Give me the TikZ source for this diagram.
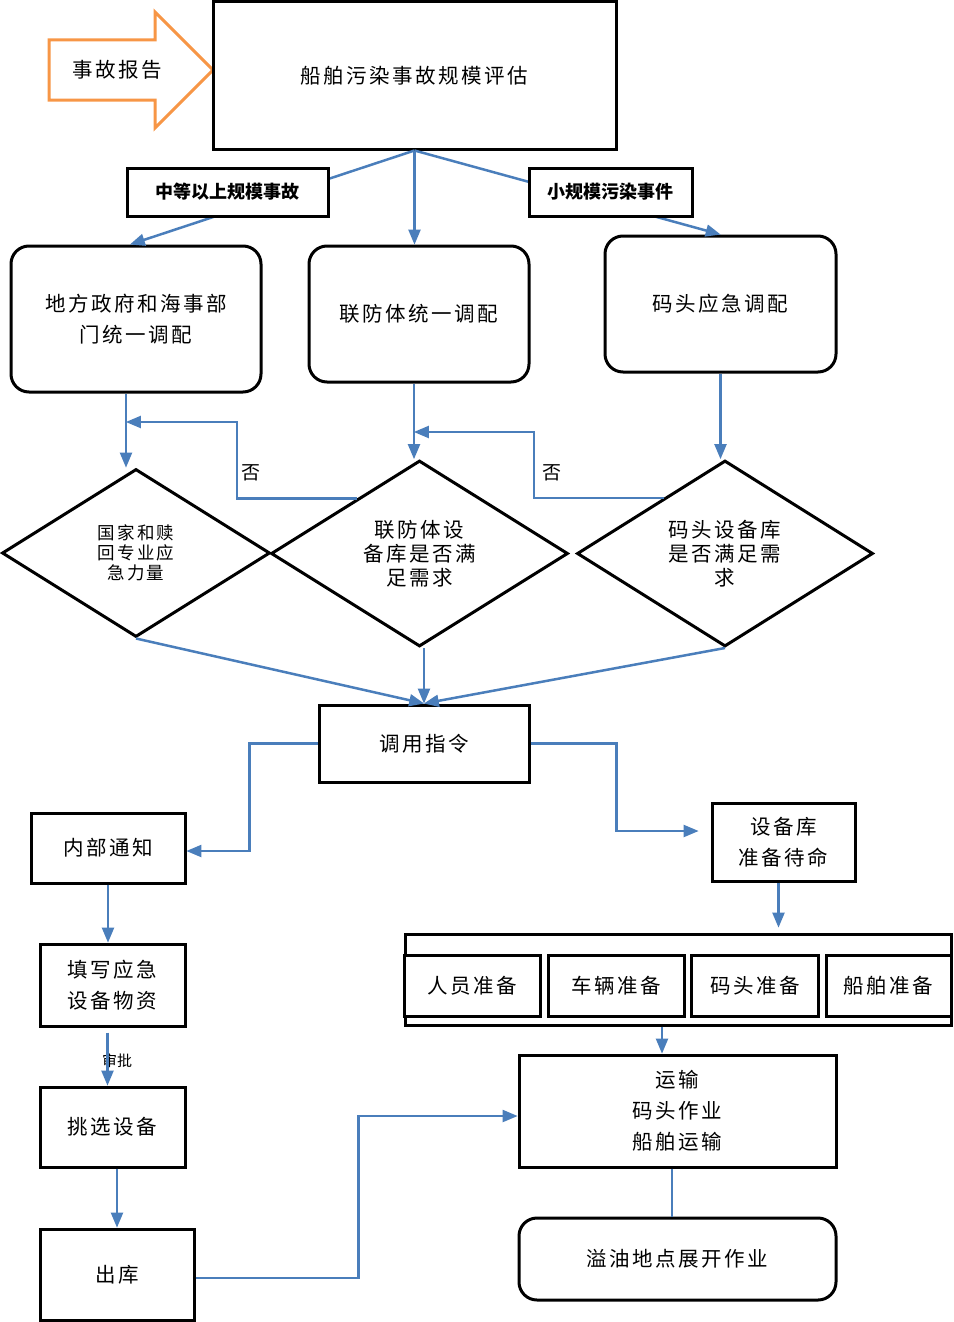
\documentclass[tikz,border=0pt]{standalone}
\usepackage{fontspec}
\setmainfont{Noto Sans CJK SC}
\newfontfamily\spaced{Noto Sans CJK SC}[LetterSpace=12]
\usepackage{tikz}
\usetikzlibrary{positioning,shapes,calc,arrows}
\definecolor{flowblue}{RGB}{74,126,187}
\definecolor{reportorange}{RGB}{247,150,70}

\begin{document}
\begin{tikzpicture}[x = 1pt, y = -1pt,
  box/.style = {draw, line width = 3pt, fill = white, inner sep = 0pt, align = center, font = \spaced\fontsize{20.5}{31}\selectfont},
  rbox/.style = {box, rounded corners = 18pt},
  tag/.style = {draw, line width = 3pt, fill = white, inner sep = 0pt, font = \fontsize{18}{20}\selectfont\bfseries},
  choice/.style = {diamond, draw, line width = 3pt, inner sep = 0pt, align = center, font = \spaced\fontsize{20.5}{24}\selectfont},
  flow/.style = {-triangle 45, flowblue, line width = 2.5pt},
  link/.style = {flowblue, line width = 2.5pt}]
\useasboundingbox (0,0) rectangle (953,1322);

\draw[reportorange, line width = 3pt, fill = white] (49,40) -- (155,40) -- (155,12) -- (213,70) -- (155,128) -- (155,100) -- (49,100) -- cycle;
\node[font = \spaced\fontsize{20.5}{24}\selectfont] (report) at (117,70) {事故报告};
\node[box, minimum width = 403pt, minimum height = 147pt] (top) at (414.5,75.5) {船舶污染事故规模评估};

\node[rbox, minimum width = 250pt, minimum height = 146pt] (gov) at (136,319) {地方政府和海事部\\门统一调配};
\node[rbox, minimum width = 220pt, minimum height = 136pt] (joint) at (419,314) {联防体统一调配};
\node[rbox, minimum width = 231pt, minimum height = 136pt] (dock) at (720.5,304) {码头应急调配};

\draw[flow] (top.south) -- ([xshift = -6pt]gov.north);
\draw[flow] (top.south) -- (top.south |- joint.north);
\draw[flow] (top.south) -- (dock.north);
\node[tag, minimum width = 201pt, minimum height = 48pt] (big) at (227.5,192) {中等以上规模事故};
\node[tag, minimum width = 163pt, minimum height = 48pt] (small) at (610.5,192) {小规模污染事件};

\node[choice, minimum width = 268pt, minimum height = 168pt, font = \spaced\fontsize{17.5}{20}\selectfont] (national) at (136,553) {国家和赎\\回专业应\\急力量};
\node[choice, minimum width = 297pt, minimum height = 186pt] (jointq) at (419.5,553.5) {联防体设\\备库是否满\\足需求};
\node[choice, minimum width = 296pt, minimum height = 186pt] (dockq) at (725,553.5) {码头设备库\\是否满足需\\求};

\draw[flow] ([xshift = -10pt]gov.south) -- ([xshift = -10pt]gov.south |- national.north);
\draw[flow] ([xshift = -5pt]joint.south) -- ([xshift = -5pt]joint.south |- jointq.north);
\draw[flow] (dock.south) -- (dock.south |- dockq.north);

\coordinate (back1) at (126,422);
\coordinate (back2) at (414,432);
\draw[flow] ($(jointq.west)!.58!(jointq.north)$) -| ([xshift = 111pt]back1) -- (back1);
\draw[flow] ($(dockq.west)!.59!(dockq.north)$) -| ([xshift = 120pt]back2) -- (back2);
\node[font = \fontsize{19}{20}\selectfont] (no1) at (251,473) {否};
\node[font = \fontsize{19}{20}\selectfont] (no2) at (552,473) {否};

\node[box, minimum width = 210pt, minimum height = 77pt] (cmd) at (424,743.5) {调用指令};
\draw[flow] (national.south) -- (cmd.north);
\draw[flow] (cmd.north |- jointq.south) -- (cmd.north);
\draw[flow] (dockq.south) -- (cmd.north);

\node[box, minimum width = 154pt, minimum height = 70pt] (notice) at (108,848) {内部通知};
\node[box, minimum width = 143pt, minimum height = 78pt] (store) at (783.5,842) {设备库\\准备待命};
\draw[flow] (cmd.west) -- ++(-68,0) |- ([yshift = -3pt]notice.east);
\draw[flow] (cmd.east) -- ++(86,0) |- ([xshift = -12pt, yshift = 11pt]store.west);

\node[box, minimum width = 546pt, minimum height = 91pt] (prep) at (678,979.5) {};
\node[box, minimum width = 136pt, minimum height = 61pt] (staff) at (472.5,985.5) {人员准备};
\node[box, minimum width = 136pt, minimum height = 61pt] (car) at (616.5,985.5) {车辆准备};
\node[box, minimum width = 127pt, minimum height = 61pt] (pier) at (755,985.5) {码头准备};
\node[box, minimum width = 125pt, minimum height = 61pt] (ship) at (888.5,985.5) {船舶准备};
\draw[flow, shorten > = 5pt] ([xshift = -5pt]store.south) -- ([xshift = -5pt]store.south |- prep.north);

\node[box, minimum width = 317pt, minimum height = 112pt] (trans) at (677.5,1111) {运输\\码头作业\\船舶运输};
\node[rbox, minimum width = 317pt, minimum height = 82pt] (spill) at (677.5,1259) {溢油地点展开作业};
\draw[flow] ([xshift = -16pt]prep.south) -- ([xshift = -16pt]prep.south |- trans.north);
\draw[link] ([xshift = -5.5pt]trans.south) -- ([xshift = -5.5pt]trans.south |- spill.north);

\node[box, minimum width = 145pt, minimum height = 82pt] (fill) at (112.5,985) {填写应急\\设备物资};
\node[box, minimum width = 145pt, minimum height = 80pt] (pick) at (112.5,1127) {挑选设备};
\node[box, minimum width = 154pt, minimum height = 91pt] (out) at (117,1274.5) {出库};
\draw[flow] (notice.south) -- (notice.south |- fill.north);
\node[font = \fontsize{15}{18}\selectfont] (approve) at (117,1061) {审批};
\draw[flow, shorten < = 5pt] ([xshift = -5pt]fill.south) -- ([xshift = -5pt]fill.south |- pick.north);
\draw[flow] (out.north |- pick.south) -- (out.north);
\draw[flow] ([yshift = -3.5pt]out.east) -- ++(163,0) |- ([yshift = -5pt]trans.west);
\end{tikzpicture}
\end{document}
